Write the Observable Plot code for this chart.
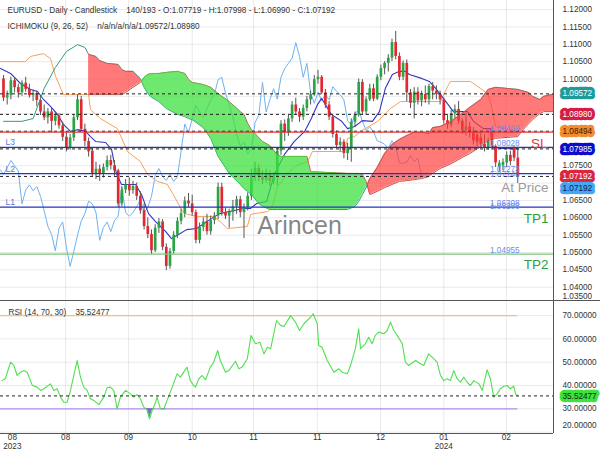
<!DOCTYPE html>
<html>
<head>
<meta charset="utf-8">
<script src="https://cdn.jsdelivr.net/npm/d3@7"></script>
<script src="https://cdn.jsdelivr.net/npm/@observablehq/plot@0.6"></script>
<style>
  html,body{margin:0;padding:0;background:#fff;}
  #wrap{position:relative;width:600px;height:450px;overflow:hidden;font-family:"Liberation Sans",Arial,sans-serif;background:#fff;}
  #main{position:absolute;left:0;top:0;}
  #rsi{position:absolute;left:0;top:301px;}
  #sep{position:absolute;left:0;top:300px;width:600px;height:1px;background:#555;}
</style>
</head>
<body>
<div id="wrap"><div id="main"></div><div id="rsi"></div><div id="sep"></div></div>
<script>
// ---------- DATA ----------
const barOpen = [
1.1000,1.0945,1.0952,1.0995,1.0975,1.0960,1.0988,1.0970,1.0952,1.0958,
1.0938,1.0905,1.0888,1.0905,1.0878,1.0893,1.0865,1.0832,1.0802,1.0830,
1.0888,1.0940,1.0855,1.0820,1.0792,1.0728,1.0740,1.0725,1.0745,1.0765,
1.0750,1.0735,1.0640,1.0680,1.0695,1.0678,1.0690,1.0662,1.0620,1.0575,
1.0552,1.0505,1.0570,1.0588,1.0515,1.0460,1.0503,1.0550,1.0590,1.0612,
1.0648,1.0640,1.0615,1.0535,1.0572,1.0588,1.0560,1.0592,1.0605,1.0688,
1.0615,1.0605,1.0615,1.0632,1.0652,1.0615,1.0630,1.0662,1.0722,1.0742,
1.0718,1.0708,1.0725,1.0705,1.0718,1.0792,1.0870,1.0845,1.0885,1.0925,
1.0905,1.0890,1.0915,1.0940,1.0955,1.0998,1.1005,1.0960,1.0925,1.0890,
1.0840,1.0808,1.0818,1.0785,1.0798,1.0875,1.0895,1.0990,1.0905,1.0940,
1.0972,1.0942,1.1005,1.1030,1.1045,1.1060,1.1105,1.1065,1.1005,1.1045,
1.0960,1.0930,1.0962,1.0937,1.0955,1.0940,1.0978,1.0965,1.0955,1.0940,
1.0880,1.0868,1.0900,1.0912,1.0878,1.0852,1.0862,1.0848,1.0838,1.0830,
1.0812,1.0800,1.0845,1.0805,1.0745,1.0750,1.0758,1.0780,1.0800,1.07719];
const barHigh = [
1.1010,1.0965,1.1005,1.1002,1.0985,1.0995,1.1005,1.0985,1.0968,1.0965,
1.0950,1.0925,1.0915,1.0915,1.0905,1.0900,1.0875,1.0848,1.0840,1.0895,
1.0955,1.0950,1.0870,1.0830,1.0800,1.0760,1.0752,1.0755,1.0778,1.0780,
1.0765,1.0740,1.0690,1.0710,1.0715,1.0705,1.0700,1.0675,1.0640,1.0600,
1.0565,1.0580,1.0598,1.0595,1.0525,1.0512,1.0560,1.0600,1.0625,1.0660,
1.0670,1.0665,1.0622,1.0585,1.0600,1.0610,1.0605,1.0615,1.0700,1.0700,
1.0628,1.0625,1.0650,1.0662,1.0662,1.0640,1.0672,1.0740,1.0760,1.0752,
1.0735,1.0740,1.0735,1.0730,1.0800,1.0880,1.0882,1.0895,1.0935,1.0945,
1.0915,1.0925,1.0950,1.0965,1.1010,1.1025,1.1010,1.0970,1.0935,1.0895,
1.0850,1.0830,1.0825,1.0815,1.0885,1.0905,1.1000,1.0998,1.0948,1.0985,
1.0985,1.1012,1.1040,1.1050,1.1070,1.1115,1.1137,1.1075,1.1052,1.1055,
1.0970,1.0975,1.0975,1.0965,1.0980,1.0985,1.0990,1.0980,1.0965,1.0945,
1.0898,1.0910,1.0925,1.0935,1.0885,1.0900,1.0875,1.0860,1.0850,1.0845,
1.0840,1.0830,1.0860,1.0810,1.0765,1.0770,1.0790,1.0792,1.0805,1.07998];
const barLow = [
1.0935,1.0925,1.0940,1.0960,1.0945,1.0950,1.0962,1.0945,1.0935,1.0920,
1.0895,1.0880,1.0870,1.0845,1.0865,1.0855,1.0820,1.0790,1.0795,1.0820,
1.0880,1.0848,1.0805,1.0775,1.0718,1.0710,1.0705,1.0715,1.0735,1.0738,
1.0720,1.0630,1.0632,1.0670,1.0662,1.0668,1.0650,1.0610,1.0565,1.0540,
1.0495,1.0500,1.0555,1.0505,1.0448,1.0452,1.0495,1.0540,1.0580,1.0600,
1.0628,1.0605,1.0525,1.0525,1.0560,1.0550,1.0550,1.0580,1.0595,1.0605,
1.0595,1.0570,1.0590,1.0610,1.0600,1.0540,1.0620,1.0650,1.0705,1.0705,
1.0695,1.0700,1.0690,1.0695,1.0692,1.0780,1.0820,1.0835,1.0875,1.0895,
1.0875,1.0880,1.0905,1.0925,1.0950,1.0985,1.0955,1.0915,1.0880,1.0830,
1.0800,1.0790,1.0770,1.0765,1.0760,1.0860,1.0890,1.0895,1.0895,1.0935,
1.0935,1.0938,1.0995,1.1012,1.1020,1.1050,1.1055,1.0995,1.0995,1.0935,
1.0915,1.0885,1.0925,1.0920,1.0930,1.0925,1.0940,1.0940,1.0925,1.0870,
1.0855,1.0860,1.0885,1.0870,1.0840,1.0835,1.0830,1.0810,1.0805,1.0800,
1.0790,1.0795,1.0795,1.0745,1.0730,1.0735,1.0745,1.0750,1.0762,1.06990];
const barClose = [
1.0945,1.0952,1.0995,1.0975,1.0960,1.0988,1.0970,1.0952,1.0958,1.0938,
1.0905,1.0888,1.0905,1.0878,1.0893,1.0865,1.0832,1.0802,1.0830,1.0888,
1.0940,1.0855,1.0820,1.0790,1.0728,1.0740,1.0725,1.0745,1.0765,1.0750,
1.0735,1.0640,1.0680,1.0695,1.0678,1.0690,1.0662,1.0620,1.0575,1.0552,
1.0505,1.0570,1.0588,1.0515,1.0460,1.0503,1.0550,1.0590,1.0612,1.0648,
1.0640,1.0615,1.0535,1.0572,1.0588,1.0560,1.0592,1.0605,1.0688,1.0615,
1.0605,1.0615,1.0632,1.0652,1.0615,1.0630,1.0662,1.0722,1.0742,1.0718,
1.0708,1.0725,1.0705,1.0718,1.0792,1.0870,1.0845,1.0885,1.0925,1.0905,
1.0890,1.0915,1.0940,1.0955,1.0998,1.1005,1.0960,1.0925,1.0890,1.0840,
1.0808,1.0818,1.0785,1.0798,1.0875,1.0895,1.0990,1.0905,1.0940,1.0972,
1.0942,1.1005,1.1030,1.1045,1.1060,1.1105,1.1065,1.1005,1.1045,1.0960,
1.0930,1.0962,1.0937,1.0955,1.0940,1.0978,1.0965,1.0955,1.0940,1.0880,
1.0868,1.0900,1.0912,1.0878,1.0852,1.0862,1.0848,1.0822,1.0818,1.0812,
1.0800,1.0822,1.0805,1.0758,1.0757,1.0760,1.0780,1.0762,1.0772,1.07192];

// Ichimoku lines (digitised keypoints: bar index, price)
const tenkanBar = [-0.8,1.9,4.6,7.3,9.2,10.8,12.7,14.6,16.2,18.1,20.0,22.2,23.5,24.9,27.6,29.2,30.5,31.9,35.7,37.3,39.2,41.1,43.8,45.4,47.3,49.5,52.2,54.9,58.4,61.1,64.9,66.8,68.4,71.1,73.2,75.9,78.6,81.4,83.2,84.9,86.0,88.6,91.4,93.0,94.9,97.0,99.7,101.6,103.2,105.1,107.0,108.6,109.7,113.2,115.1,116.8,118.9,121.6,125.4,127.0,129.7,131.6,132.2,134.3,139];
const tenkanVal = [1.1030,1.1016,1.0987,1.0970,1.0964,1.0941,1.0921,1.0898,1.0869,1.0849,1.0854,1.0849,1.0834,1.0820,1.0817,1.0797,1.0728,1.0696,1.0696,1.0667,1.0612,1.0589,1.0561,1.0540,1.0552,1.0566,1.0569,1.0589,1.0612,1.0618,1.0627,1.0627,1.0641,1.0647,1.0725,1.0782,1.0820,1.0849,1.0886,1.0927,1.0944,1.0898,1.0878,1.0857,1.0863,1.0880,1.0878,1.0906,1.0973,1.1013,1.1022,1.1022,1.1013,1.1001,1.0993,1.0973,1.0944,1.0906,1.0906,1.0878,1.0857,1.0857,1.0805,1.0800,1.07985];
const kijunBar = [-0.8,5.9,7.3,10.8,12.7,14.1,16.2,23.0,23.5,26.2,30.8,33.5,37.0,38.9,41.6,44.3,45.9,48.4,49.7,52.4,56.8,58.6,60.5,65.9,66.8,71.4,72.7,74.1,76.2,78.6,82.2,83.5,92.2,93.0,94.9,96.5,101.1,104.6,107.3,118.1,120.0,120.8,126.2,128.9,130.8,131.6,133.0,139];
const kijunVal = [1.1050,1.1050,1.1065,1.1073,1.1059,1.1007,1.0955,1.0955,1.0912,1.0886,1.0857,1.0791,1.0762,1.0725,1.0705,1.0696,1.0667,1.0618,1.0610,1.0604,1.0604,1.0589,1.0569,1.0575,1.0610,1.0618,1.0633,1.0690,1.0719,1.0748,1.0762,1.0791,1.0791,1.0829,1.0834,1.0849,1.0878,1.0915,1.0935,1.0935,1.0978,1.0993,1.0993,1.0973,1.0958,1.0935,1.0863,1.08494];
const cloudBar = [0,5,8,11,14,17,20,22,23,25,26,28,31,32,33,35,37,38,39,40,42,44,47,49,50,51,54,56,58,61,64,65,66,67,69,70,72,74,75,82,83,93,95,96,97,98,99,101,103,105,107,109,111,113,115,116,118,121,124,126,129,131,133,139,140,142,143,145,146,148,150];
const spanA = [1.0878,1.0878,1.0886,1.0973,1.1033,1.1079,1.1099,1.1091,1.1071,1.1065,1.1053,1.1045,1.1042,1.1027,1.1022,1.1022,1.1001,1.0976,1.0958,1.0947,1.0935,1.0915,1.0898,1.0892,1.0886,1.0883,1.0860,1.0829,1.0777,1.0728,1.0696,1.0684,1.0676,1.0667,1.0641,1.0633,1.0624,1.0624,1.0624,1.0624,1.0624,1.0624,1.0633,1.0647,1.0667,1.0687,1.0713,1.0745,1.0785,1.0811,1.0826,1.0837,1.0846,1.0846,1.0843,1.0860,1.0863,1.0878,1.0901,1.0918,1.0941,1.0970,1.0976,1.0970,1.0967,1.0961,1.0950,1.0941,1.0950,1.0955,1.0955];
const spanB = [null,null,null,null,null,null,null,null,1.0955,1.0955,1.0955,1.0955,1.0955,1.0955,1.0961,1.0976,1.0990,1.1004,1.1013,1.1016,1.1016,1.1019,1.1022,1.1016,1.0999,1.0990,1.0984,1.0976,1.0958,1.0935,1.0906,1.0898,1.0872,1.0854,1.0831,1.0820,1.0808,1.0782,1.0777,1.0777,1.0733,1.0728,1.0728,1.0728,1.0725,1.0705,1.0667,1.0676,1.0687,1.0696,1.0705,1.0707,1.0710,1.0713,1.0719,1.0728,1.0742,1.0756,1.0774,1.0785,1.0805,1.0823,1.0829,1.0834,1.0849,1.0872,1.0883,1.0901,1.0906,1.0906,1.0906];

// RSI (14) keypoints
const rsiBar = [-0.4,0.5,1.9,2.8,3.7,4.6,5.5,6.4,7.3,7.8,9.1,10.0,10.9,12.7,13.6,14.5,15.4,16.3,17.2,18.1,19.9,20.8,21.7,22.6,23.5,24.4,25.8,27.1,28.0,28.9,29.8,30.7,31.6,33.0,34.3,35.2,36.1,37.0,37.9,38.8,39.5,40.2,41.1,41.5,42.4,43.3,44.2,45.6,46.9,47.8,49.6,50.5,51.4,51.9,52.8,53.7,54.6,55.9,56.8,57.9,58.6,60.0,60.9,62.7,63.6,64.5,65.9,66.9,68.1,69.3,70.4,71.3,72.2,73.8,74.9,75.8,77.6,78.9,80.0,81.2,82.1,83.0,83.7,84.8,85.2,86.1,87.5,89.3,90.6,91.5,92.9,93.8,95.1,96.0,96.5,97.8,98.7,99.6,100.5,101.4,102.8,103.7,104.6,105.5,106.4,107.8,108.6,109.5,111.4,112.7,113.6,114.5,114.9,115.9,117.2,118.1,119.0,119.9,120.8,121.7,122.6,123.5,124.4,125.3,126.2,127.1,128.5,129.4,130.7,131.6,132.5,133.4,134.3,135.2,136.1,137.0,137.9,138.4,139];
const rsiVal = [42.1,42.9,50.0,48.6,44.3,45.7,46.4,45.7,42.1,40.0,39.3,37.9,38.6,40.7,37.9,38.6,35.0,32.8,32.8,37.9,50.7,43.6,39.3,37.9,34.3,33.6,31.8,35.0,39.0,39.3,37.9,30.0,35.0,37.9,36.4,35.0,36.1,34.3,30.7,29.6,25.7,29.3,32.8,35.0,30.0,29.7,33.6,39.3,45.0,43.6,47.9,42.1,40.0,39.3,42.9,44.3,42.4,47.9,50.0,55.0,50.7,45.7,46.4,50.4,47.2,47.9,51.5,61.5,57.9,58.6,53.6,56.4,55.8,67.9,65.8,65.3,70.0,67.2,63.6,66.5,67.9,69.3,70.8,66.5,57.2,56.4,50.7,45.7,47.2,45.7,45.0,48.6,55.8,64.3,55.8,57.9,60.7,57.9,61.5,62.9,62.2,63.6,67.2,63.6,61.5,57.9,50.0,48.6,50.7,49.3,48.6,52.1,53.6,52.1,50.0,44.3,42.1,42.9,42.1,46.4,42.9,41.4,43.6,41.4,40.0,42.1,40.7,37.9,46.7,42.9,35.0,36.4,38.6,39.7,40.0,38.6,39.7,36.4,35.52477];

// axes / ticks
const monthTicks = [2.4,16.8,33.8,51.0,67.6,84.8,101.9,119.0,135.9];
const monthLabels = ["08\n2023","08","09","10","11","11","12","01\n2024","02"];
const priceGrid = [1.040,1.045,1.050,1.055,1.060,1.065,1.070,1.075,1.080,1.085,1.090,1.095,1.100,1.105,1.110,1.115,1.120];
const priceTickLabels = [1.040,1.045,1.050,1.055,1.060,1.065,1.075,1.100,1.105,1.110,1.115,1.120];
const priceTickLow = [1.035];
const rsiTicks = [30,40,50,60,70];
const rsiTickLow = [20];
const rsiGrid = [20,30,40,50,60,70];

// levels
const dashedLevels = [1.09572,1.08980,1.08494,1.07985,1.07192];
const slLevel = [1.08469];
const lLevels = [1.08028,1.07273,1.06308];
const lNames = ["L3","L2","L1"];
const tp1Level = [1.06308];
const tp2Level = [1.04955];
const atPriceLevel = [1.07192];
const levelTags = [1.08469,1.08028,1.07273,1.07146,1.06308,1.06208,1.04955];
const boxVals = [1.09572,1.08980,1.08494,1.07985,1.07192,1.07192];
const boxBg = ["#1e9a9a","#d41c44","#f28c2e","#0c0ccc","#d8263c","#45a6f2"];
const boxFg = ["#ffffff","#ffffff","#3a1a00","#ffffff","#ffffff","#0a1a5a"];
const boxDy = [0,0,0,0,0,12];
const ichiValues = ["n/a","n/a","n/a","1.09572","1.08980"];

// ---------- SETUP ----------
const FONT = "Liberation Sans, Arial, sans-serif";
const FS = 8.2;
const xDomain = [-0.81, 148.65];
const yDomain = [1.03588, 1.12262];
const rsiDomain = [19.4, 76.05];
const last = barClose.length - 1;
const nb = "\u00a0";

const candles = barClose.map((c,i)=>({bar:i,o:barOpen[i],h:barHigh[i],l:barLow[i],c}));
const upC = candles.filter(d=>d.c>=d.o);
const dnC = candles.filter(d=>d.c<d.o);
const chikou = barClose.map((c,i)=>({bar:i-26, v:c}));
const tenkan = tenkanBar.map((b,k)=>({bar:b, v:tenkanVal[k]}));
const kijun = kijunBar.map((b,k)=>({bar:b, v:kijunVal[k]}));
const cloud = cloudBar.map((b,k)=>({bar:b, a:spanA[k], b:spanB[k]}));
const cloudBoth = cloud.filter(d=>d.b!=null);
const seg = []; let sid = 0;
cloudBoth.forEach((d,k)=>{
  const kind = d.a>=d.b ? "red" : "green";
  if (k>0) {
    const p = cloudBoth[k-1]; const pk = p.a>=p.b ? "red" : "green";
    if (pk!==kind) {
      const dp=p.a-p.b, dc=d.a-d.b, t=dp/(dp-dc);
      const cx=p.bar+t*(d.bar-p.bar), cy=p.a+t*(d.a-p.a);
      seg.push({bar:cx,a:cy,b:cy,sid,kind:pk}); sid++;
      seg.push({bar:cx,a:cy,b:cy,sid,kind});
    }
  }
  seg.push({bar:d.bar,a:d.a,b:d.b,sid,kind});
});

const hdr1 = `EURUSD - Daily - Candlestick${nb.repeat(4)}${last+1}/193 - O:${barOpen[last].toFixed(5)} - H:${barHigh[last].toFixed(5)} - L:${barLow[last].toFixed(5)} - C:${barClose[last].toFixed(5)}`;
const hdr2 = `ICHIMOKU (9, 26, 52)${nb.repeat(4)}${ichiValues.join("/")}`;

const boxMarks = boxVals.map((v,k)=>Plot.text([v],{y:d=>d,text:d=>d.toFixed(5),frameAnchor:"right",textAnchor:"start",dx:9,dy:boxDy[k],
  fill:boxFg[k],stroke:boxBg[k],strokeWidth:6.5,strokeLinejoin:"round",paintOrder:"stroke",fontSize:FS}));

const main = Plot.plot({
  width:600, height:301, marginLeft:0, marginRight:47, marginTop:0, marginBottom:0,
  style:{fontFamily:FONT, fontSize:FS+"px", background:"#fff"},
  x:{domain:xDomain, axis:null}, y:{domain:yDomain, axis:null},
  marks:[
    Plot.gridY(priceGrid,{stroke:"#000",strokeOpacity:0.085}),
    Plot.gridX(monthTicks.slice(1),{stroke:"#000",strokeOpacity:0.085}),
    Plot.line(chikou,{x:"bar",y:"v",stroke:"#6fb2f2",strokeWidth:1,clip:true}),
    Plot.line(kijun,{x:"bar",y:"v",stroke:"#f5a25e",strokeWidth:1,clip:true}),
    Plot.line(tenkan,{x:"bar",y:"v",stroke:"#3535c6",strokeWidth:1.1,clip:true}),
    Plot.ruleX(candles,{x:"bar",y1:"l",y2:"h",stroke:"#555",strokeWidth:1}),
    Plot.ruleX(upC,{x:"bar",y1:"o",y2:"c",stroke:"#2aa545",strokeWidth:2.7}),
    Plot.ruleX(dnC,{x:"bar",y1:"o",y2:"c",stroke:"#e3262f",strokeWidth:2.7}),
    Plot.line(cloud,{x:"bar",y:"a",stroke:"#2f9a8a",strokeWidth:1,clip:true}),
    Plot.line(cloudBoth,{x:"bar",y:"b",stroke:"#c0504c",strokeWidth:1,clip:true}),
    Plot.areaY(seg.filter(d=>d.kind==="red"),{x:"bar",y1:"a",y2:"b",z:"sid",fill:"#ff3a3a",fillOpacity:0.68,clip:true}),
    Plot.areaY(seg.filter(d=>d.kind==="green"),{x:"bar",y1:"a",y2:"b",z:"sid",fill:"#3ee03e",fillOpacity:0.75,clip:true}),
    Plot.ruleY(dashedLevels,{stroke:"#222",strokeDasharray:"3,3",strokeWidth:1}),
    Plot.ruleY(slLevel,{stroke:"#e53935",strokeWidth:1.2}),
    Plot.ruleY(lLevels,{stroke:"#2434c0",strokeWidth:1.2}),
    Plot.ruleY(tp2Level,{stroke:"#7cc47c",strokeWidth:1.3}),
    Plot.text(["Arincen"],{frameAnchor:"middle",dx:22.5,dy:74.5,fontSize:25,fill:"#707070",fillOpacity:0.85}),
    Plot.text(levelTags,{y:d=>d,text:d=>d.toFixed(5),frameAnchor:"right",textAnchor:"start",dx:-63.5,lineAnchor:"bottom",dy:-1.5,fill:"#6d8cf0",fontSize:FS}),
    Plot.text(lLevels,{y:d=>d,text:(d,i)=>lNames[i],frameAnchor:"left",textAnchor:"start",dx:5,lineAnchor:"bottom",dy:-2,fill:"#5577e0",fontSize:8.5}),
    Plot.text(slLevel,{y:d=>d,text:()=>"SL",frameAnchor:"right",textAnchor:"end",dx:-6,dy:11.3,lineAnchor:"middle",fill:"#e53935",fontSize:13.5}),
    Plot.text(atPriceLevel,{y:d=>d,text:()=>"At Price",frameAnchor:"right",textAnchor:"end",dx:-5,dy:11.5,lineAnchor:"middle",fill:"#9a9a9a",fontSize:13.5}),
    Plot.text(tp1Level,{y:d=>d,text:()=>"TP1",frameAnchor:"right",textAnchor:"end",dx:-5,dy:11.5,lineAnchor:"middle",fill:"#2e9e3a",fontSize:13.5}),
    Plot.text(tp2Level,{y:d=>d,text:()=>"TP2",frameAnchor:"right",textAnchor:"end",dx:-5,dy:10.5,lineAnchor:"middle",fill:"#2e9e3a",fontSize:13.5}),
    Plot.text([hdr1],{frameAnchor:"top-left",textAnchor:"start",dx:7,dy:10,lineAnchor:"middle",fill:"#333",fontSize:FS}),
    Plot.text([hdr2],{frameAnchor:"top-left",textAnchor:"start",dx:7,dy:26,lineAnchor:"middle",fill:"#333",fontSize:FS}),
    Plot.axisY(priceTickLabels,{anchor:"right",tickSize:0,tickPadding:9,tickFormat:d=>d.toFixed(5),fontSize:FS,color:"#333",label:null}),
    Plot.text(priceTickLow,{y:d=>d,text:d=>d.toFixed(5),frameAnchor:"right",textAnchor:"start",dx:9,dy:-8,fill:"#333",fontSize:FS}),
    ...boxMarks,
    Plot.ruleX([xDomain[1]],{stroke:"#555",strokeWidth:1})
  ]
});
document.getElementById("main").appendChild(main);

// ---------- RSI ----------
const rsi = rsiBar.map((b,k)=>({bar:b, v:rsiVal[k]}));
const rsiLow = rsi.map(d=>({bar:d.bar, v:Math.min(d.v,30)}));
const rsiLast = rsiVal[rsiVal.length-1];
const labelMap = new Map(monthTicks.map((t,i)=>[t,monthLabels[i]]));

const rsiPlot = Plot.plot({
  width:600, height:149, marginLeft:0, marginRight:47, marginTop:0, marginBottom:17,
  style:{fontFamily:FONT, fontSize:FS+"px", background:"#fff"},
  x:{domain:xDomain, axis:null}, y:{domain:rsiDomain, axis:null},
  marks:[
    Plot.gridY(rsiGrid,{stroke:"#000",strokeOpacity:0.085}),
    Plot.gridX(monthTicks.slice(1),{stroke:"#000",strokeOpacity:0.085}),
    Plot.ruleY([70],{x1:()=>xDomain[0],x2:()=>last,stroke:"#f7c07a",strokeWidth:1.2}),
    Plot.ruleY([30],{x1:()=>xDomain[0],x2:()=>last,stroke:"#b48ef2",strokeWidth:1.2}),
    Plot.areaY(rsiLow,{x:"bar",y1:()=>30,y2:"v",fill:"#6464b8",fillOpacity:0.9}),
    Plot.line(rsi,{x:"bar",y:"v",stroke:"#4fe04f",strokeWidth:1.1}),
    Plot.ruleY([rsiLast],{stroke:"#222",strokeDasharray:"3,3",strokeWidth:1}),
    Plot.ruleX([xDomain[1]],{stroke:"#555",strokeWidth:1}),
    Plot.ruleY([rsiDomain[0]],{stroke:"#555",strokeWidth:1}),
    Plot.axisY(rsiTicks,{anchor:"right",tickSize:0,tickPadding:9,tickFormat:d=>d.toFixed(5),fontSize:FS,color:"#333",label:null}),
    Plot.text(rsiTickLow,{y:d=>d,text:d=>d.toFixed(5),frameAnchor:"right",textAnchor:"start",dx:9,dy:-7,fill:"#333",fontSize:FS}),
    Plot.axisX(monthTicks,{anchor:"bottom",tickSize:0,tickPadding:1,tickFormat:d=>labelMap.get(d),fontSize:FS,color:"#333",label:null}),
    Plot.text([`RSI (14, 70, 30)${nb.repeat(4)}${rsiLast.toFixed(5)}`],{frameAnchor:"top-left",textAnchor:"start",dx:8,dy:10.7,lineAnchor:"middle",fill:"#333",fontSize:FS}),
    Plot.text([rsiLast],{y:d=>d,text:d=>d.toFixed(5),frameAnchor:"right",textAnchor:"start",dx:9,fill:"#0a2a0a",stroke:"#3ee23e",strokeWidth:6.5,strokeLinejoin:"round",paintOrder:"stroke",fontSize:FS})
  ]
});
document.getElementById("rsi").appendChild(rsiPlot);
</script>
</body>
</html>
